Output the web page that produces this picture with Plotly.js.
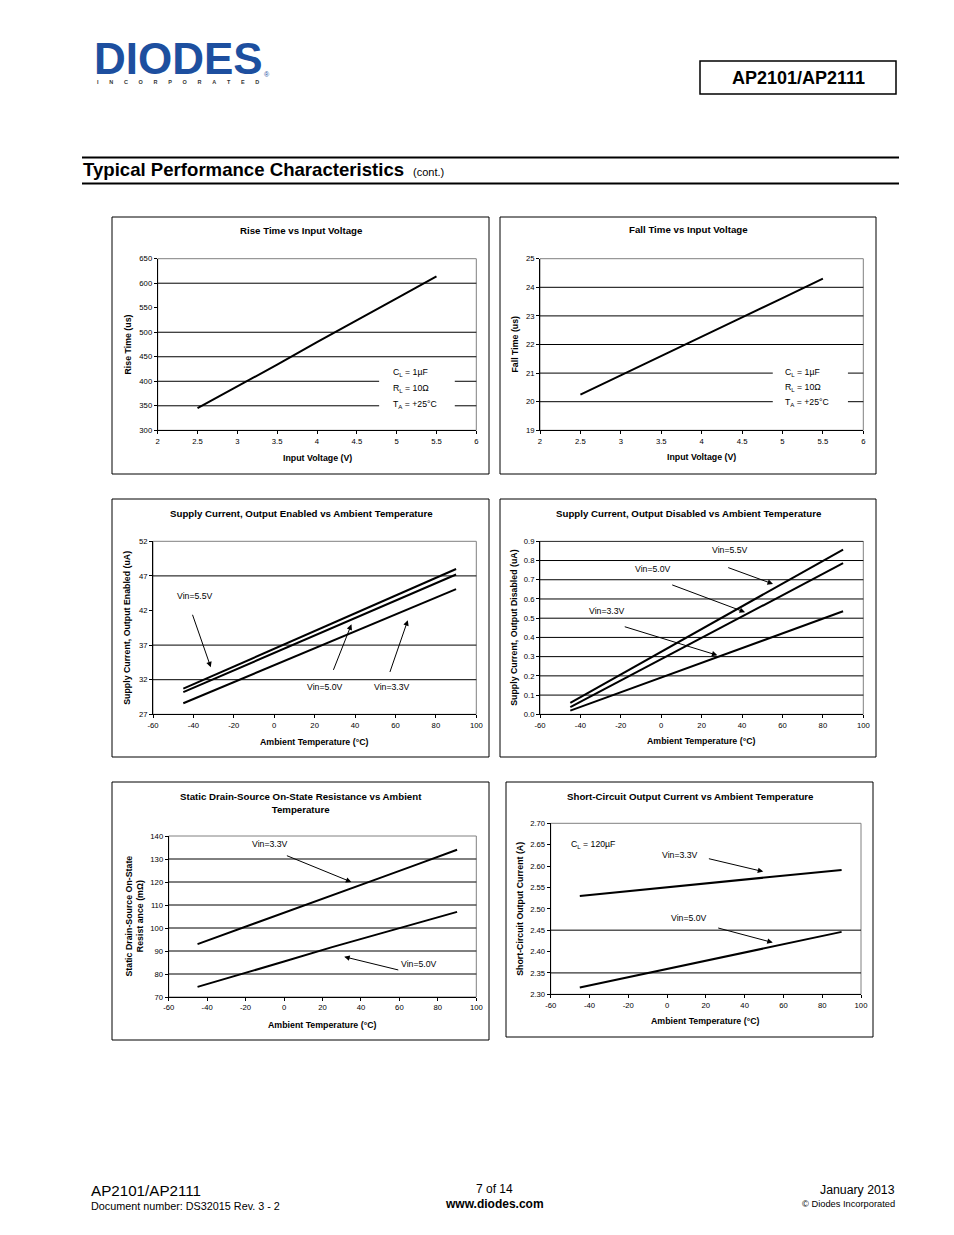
<!DOCTYPE html>
<html>
<head>
<meta charset="utf-8">
<script src="https://cdn.plot.ly/plotly-3.0.1.min.js"></script>
<style>
html,body{margin:0;padding:0;background:#fff;}
#chart{width:954px;height:1235px;}
</style>
</head>
<body>
<div id="chart"></div>
<script>
// ---------------- DATA ----------------
const inputVoltage = [2.5, 3.0, 3.5, 4.0, 4.5, 5.0, 5.5];
const riseTime     = [345, 389, 434, 480, 524, 569, 614];
const fallTime     = [20.25, 20.93, 21.6, 22.27, 22.95, 23.62, 24.3];

const ambientTemp  = [-45, -20, 0, 25, 50, 70, 90];
const iEnabled55   = [30.7, 33.9, 36.5, 39.7, 42.9, 45.5, 48.0];
const iEnabled50   = [30.2, 33.35, 35.9, 39.0, 42.2, 44.7, 47.2];
const iEnabled33   = [28.6, 31.65, 34.1, 37.15, 40.2, 42.65, 45.1];

const iDisabled55  = [0.060, 0.208, 0.326, 0.473, 0.621, 0.739, 0.857];
const iDisabled50  = [0.037, 0.176, 0.287, 0.426, 0.565, 0.675, 0.786];
const iDisabled33  = [0.019, 0.115, 0.191, 0.287, 0.383, 0.459, 0.536];

const rdsOn33      = [93.0, 100.5, 106.5, 114.2, 121.8, 127.9, 134.0];
const rdsOn50      = [74.4, 80.4, 85.4, 91.7, 97.6, 102.3, 107.0];

const iShort33     = [2.530, 2.541, 2.550, 2.561, 2.573, 2.582, 2.591];
const iShort50     = [2.316, 2.340, 2.359, 2.383, 2.407, 2.427, 2.446];

// temperature axis tick values and labels (hyphen-minus as in the reference)
const tempTickVals  = [-60, -40, -20, 0, 20, 40, 60, 80, 100];
const tempTickText  = ["-60", "-40", "-20", "0", "20", "40", "60", "80", "100"];

const chartTitles = [
  "Rise Time vs Input Voltage",
  "Fall Time vs Input Voltage",
  "Supply Current, Output Enabled vs Ambient Temperature",
  "Supply Current, Output Disabled vs Ambient Temperature",
  "Static Drain-Source On-State Resistance vs Ambient<br>Temperature",
  "Short-Circuit Output Current vs Ambient Temperature"
];
const xTitles = ["Input Voltage (V)", "Input Voltage (V)",
  "Ambient Temperature (°C)", "Ambient Temperature (°C)",
  "Ambient Temperature (°C)", "Ambient Temperature (°C)"];
const yTitles = ["Rise Time (us)", "Fall Time (us)",
  "Supply Current, Output Enabled (uA)", "Supply Current, Output Disabled (uA)",
  "Static Drain-Source On-State<br>Resist ance (mΩ)", "Short-Circuit Output Current (A)"];

// axis ranges / ticks / grid values
const xRanges = [[2,6],[2,6],[-60,100],[-60,100],[-60,100],[-60,100]];
const xDticks = [0.5,0.5,20,20,20,20];
const yRanges = [[300,650],[19,25],[27,52],[0,0.9],[70,140],[2.30,2.70]];
const yDticks = [50,1,5,0.1,10,0.05];
const yFormats = ["","","",".1f","",".2f"];
const gridVals = [
  [350,400,450,500,600],
  [20,21,22,23,24],
  [32,37,47],
  [0.1,0.2,0.3,0.4,0.5,0.6,0.7,0.8,0.9],
  [80,90,100,110,120,130],
  [2.35,2.45]
];

// ---------------- LAYOUT HELPERS ----------------
const W = 954, H = 1235;
const PX = x => x / W;
const PY = y => 1 - y / H;
const FONT = "Liberation Sans, Arial, Helvetica, sans-serif";
const TICKSIZE = 7.7;

const boxes = [
  {frame:[112,217,489,474], plot:[157.7,258.7,476.3,430.3], tY:231,  xtY:457.7, ytX:127},
  {frame:[500,217,876,474], plot:[540,258.7,863.3,430.3],   tY:230,  xtY:456.7, ytX:514},
  {frame:[112,499,489,757], plot:[153,541.3,476.3,714.3],   tY:513,  xtY:742,   ytX:127},
  {frame:[500,499,876,757], plot:[540,541.3,863.3,714.3],   tY:513,  xtY:741.3, ytX:514},
  {frame:[112,782,489,1040],plot:[168.7,836,476.3,997],     tY:802.5,xtY:1024.7,ytX:134},
  {frame:[506,782,873,1037],plot:[550.7,823.3,861,994.3],   tY:796,  xtY:1021,  ytX:520}
];

const layout = {
  width: W, height: H,
  margin: {l:0, r:0, t:0, b:0, pad:0},
  paper_bgcolor: "#fff", plot_bgcolor: "#fff",
  showlegend: false,
  font: {family: FONT, color: "#000"},
  shapes: [], annotations: []
};

const ax = (i) => i === 0 ? "" : String(i + 1);

boxes.forEach((b, i) => {
  const [l, t, r, bt] = b.plot;
  const s = ax(i);
  const xa = {
    domain: [PX(l), PX(r)], anchor: "y" + s, range: xRanges[i],
    showline: true, linecolor: "#000", linewidth: 1,
    ticks: "outside", ticklen: 3, tickcolor: "#000", tickwidth: 1,
    showgrid: false, zeroline: false, fixedrange: true,
    tickfont: {family: FONT, size: TICKSIZE, color: "#000"}
  };
  if (i >= 2) { xa.tickmode = "array"; xa.tickvals = tempTickVals; xa.ticktext = tempTickText; }
  else { xa.dtick = xDticks[i]; xa.tick0 = xRanges[i][0]; }
  layout["xaxis" + s] = xa;
  layout["yaxis" + s] = {
    domain: [PY(bt), PY(t)], anchor: "x" + s, range: yRanges[i],
    dtick: yDticks[i], tick0: yRanges[i][0], tickformat: yFormats[i],
    showline: true, linecolor: "#000", linewidth: 1,
    ticks: "outside", ticklen: 3, tickcolor: "#000", tickwidth: 1,
    showgrid: false, zeroline: false, fixedrange: true,
    tickfont: {family: FONT, size: TICKSIZE, color: "#000"}
  };
  // frame
  layout.shapes.push({type:"rect", xref:"paper", yref:"paper",
    x0:PX(b.frame[0]), x1:PX(b.frame[2]), y0:PY(b.frame[3]), y1:PY(b.frame[1]),
    line:{color:"#000", width:1}, layer:"above"});
  // plot area border (grey)
  layout.shapes.push({type:"rect", xref:"x"+s+" domain", yref:"y"+s+" domain",
    x0:0, x1:1, y0:0, y1:1, line:{color:"#808080", width:1}, layer:"below"});
  // gridlines
  gridVals[i].forEach(v => layout.shapes.push({type:"line", xref:"x"+s+" domain", yref:"y"+s,
    x0:0, x1:1, y0:v, y1:v, line:{color:"#000", width:1}, layer:"below"}));
  // titles
  layout.annotations.push({xref:"paper", yref:"paper", x:PX((b.frame[0]+b.frame[2])/2 + 0.5), y:PY(b.tY),
    text:"<b>"+chartTitles[i]+"</b>", showarrow:false, xanchor:"center", yanchor:"middle",
    font:{family:FONT, size:9.7, color:"#000"}});
  layout.annotations.push({xref:"paper", yref:"paper", x:PX((l+r)/2), y:PY(b.xtY),
    text:"<b>"+xTitles[i]+"</b>", showarrow:false, xanchor:"center", yanchor:"middle",
    font:{family:FONT, size:8.8, color:"#000"}});
  layout.annotations.push({xref:"paper", yref:"paper", x:PX(b.ytX), y:PY((t+bt)/2),
    text:"<b>"+yTitles[i]+"</b>", showarrow:false, xanchor:"center", yanchor:"middle",
    textangle:-90, font:{family:FONT, size:8.8, color:"#000"}});
});

// white boxes behind the condition notes (break the gridlines)
layout.shapes.push({type:"rect", xref:"x", yref:"y", x0:4.78, x1:5.73, y0:337, y1:433,
  fillcolor:"#fff", line:{width:0}, layer:"below"});
layout.shapes.push({type:"rect", xref:"x2", yref:"y2", x0:4.88, x1:5.81, y0:19.6, y1:21.4,
  fillcolor:"#fff", line:{width:0}, layer:"below"});

const LBL = {family:FONT, size:8.7, color:"#000"};
function note(xa, ya, x, y, text, anchor) {
  layout.annotations.push({xref:xa, yref:ya, x:x, y:y, text:text, showarrow:false,
    xanchor:anchor || "left", yanchor:"middle", font:LBL});
}
function arrow(xa, ya, tx, ty, hx, hy) {
  layout.annotations.push({xref:xa, yref:ya, axref:xa, ayref:ya, x:hx, y:hy, ax:tx, ay:ty,
    text:"", showarrow:true, arrowhead:2, arrowsize:1.1, arrowwidth:1, arrowcolor:"#000", standoff:0});
}
// chart 1 notes
note("x","y",4.93,418,"C<sub>L</sub> = 1µF");
note("x","y",4.93,385.5,"R<sub>L</sub> = 10Ω");
note("x","y",4.93,352,"T<sub>A</sub> = +25°C");
// chart 2 notes
note("x2","y2",5.01,21.02,"C<sub>L</sub> = 1µF");
note("x2","y2",5.01,20.5,"R<sub>L</sub> = 10Ω");
note("x2","y2",5.01,19.98,"T<sub>A</sub> = +25°C");
// chart 3
note("x3","y3",-39.2,44.1,"Vin=5.5V","center");
arrow("x3","y3",-40.7,41.6,-31.4,33.8);
note("x3","y3",25.3,31.0,"Vin=5.0V","center");
arrow("x3","y3",29.0,33.2,38.2,40.0);
note("x3","y3",58.3,30.95,"Vin=3.3V","center");
arrow("x3","y3",57.0,32.9,66.1,40.6);
// chart 4
note("x4","y4",34.0,0.856,"Vin=5.5V","center");
arrow("x4","y4",32.4,0.766,55.3,0.678);
note("x4","y4",-4.1,0.754,"Vin=5.0V","center");
arrow("x4","y4",4.7,0.676,41.5,0.531);
note("x4","y4",-26.7,0.536,"Vin=3.3V","center");
arrow("x4","y4",-18.8,0.458,27.8,0.307);
// chart 5
note("x5","y5",-7.1,136.4,"Vin=3.3V","center");
arrow("x5","y5",0.7,131.7,35.0,120.0);
note("x5","y5",70.0,84.2,"Vin=5.0V","center");
arrow("x5","y5",60.2,81.6,31.3,87.5);
// chart 6
note("x6","y6",-50.4,2.651,"C<sub>L</sub> = 120µF");
note("x6","y6",6.7,2.626,"Vin=3.3V","center");
arrow("x6","y6",20.8,2.618,49.6,2.587);
note("x6","y6",11.3,2.479,"Vin=5.0V","center");
arrow("x6","y6",25.6,2.456,54.5,2.421);

// ---------------- PAGE HEADER / FOOTER ----------------
function pageText(x, y, text, size, anchor, color, extra) {
  layout.annotations.push(Object.assign({xref:"paper", yref:"paper", x:PX(x), y:PY(y), text:text,
    showarrow:false, xanchor:anchor, yanchor:"middle",
    font:{family:FONT, size:size, color:color || "#000"}}, extra || {}));
}
pageText(178, 58, "<b>DIODES</b>", 44, "center", "#1d4f9f", {height:36, borderpad:0});
pageText(263, 74, "®", 7, "left", "#1d4f9f", {borderpad:0});
pageText(178, 82, "<b>" + "INCORPORATED".split("").join("\u00a0".repeat(7)) + "</b>", 5.5, "center", "#333", {borderpad:0});

layout.shapes.push({type:"rect", xref:"paper", yref:"paper", x0:PX(700), x1:PX(896), y0:PY(94), y1:PY(61),
  line:{color:"#000", width:1.5}, layer:"above"});
pageText(798, 78, "<b>AP2101/AP2111</b>", 18, "center");

layout.shapes.push({type:"line", xref:"paper", yref:"paper", x0:PX(82), x1:PX(899), y0:PY(157.5), y1:PY(157.5),
  line:{color:"#000", width:2}, layer:"above"});
layout.shapes.push({type:"line", xref:"paper", yref:"paper", x0:PX(82), x1:PX(899), y0:PY(183.5), y1:PY(183.5),
  line:{color:"#000", width:2}, layer:"above"});
layout.title = {text:"<b>Typical Performance Characteristics</b>", x:PX(83), xanchor:"left",
  xref:"paper", yref:"paper", y:PY(169.5), yanchor:"middle", font:{family:FONT, size:18.6, color:"#000"}};
pageText(411, 172, "(cont.)", 11, "left");

pageText(89, 1190, "AP2101/AP2111", 15.2, "left");
pageText(89, 1206, "Document number: DS32015 Rev. 3 - 2", 10.8, "left");
pageText(494, 1189, "7 of 14", 12, "center");
pageText(494, 1204, "<b>www.diodes.com</b>", 12, "center");
pageText(897, 1190, "January 2013", 12.3, "right");
pageText(897, 1204, "© Diodes Incorporated", 9.3, "right");

// ---------------- TRACES ----------------
const LINE = {color:"#000", width:2};
function series(x, y, i) {
  const s = ax(i);
  return {type:"scatter", mode:"lines", x:x, y:y, xaxis:"x"+s, yaxis:"y"+s,
    line:LINE, hoverinfo:"skip", showlegend:false};
}
const data = [
  series(inputVoltage, riseTime, 0),
  series(inputVoltage, fallTime, 1),
  series(ambientTemp, iEnabled55, 2),
  series(ambientTemp, iEnabled50, 2),
  series(ambientTemp, iEnabled33, 2),
  series(ambientTemp, iDisabled55, 3),
  series(ambientTemp, iDisabled50, 3),
  series(ambientTemp, iDisabled33, 3),
  series(ambientTemp, rdsOn33, 4),
  series(ambientTemp, rdsOn50, 4),
  series(ambientTemp, iShort33, 5),
  series(ambientTemp, iShort50, 5)
];

Plotly.newPlot("chart", data, layout, {staticPlot:true, displayModeBar:false});
</script>
</body>
</html>
